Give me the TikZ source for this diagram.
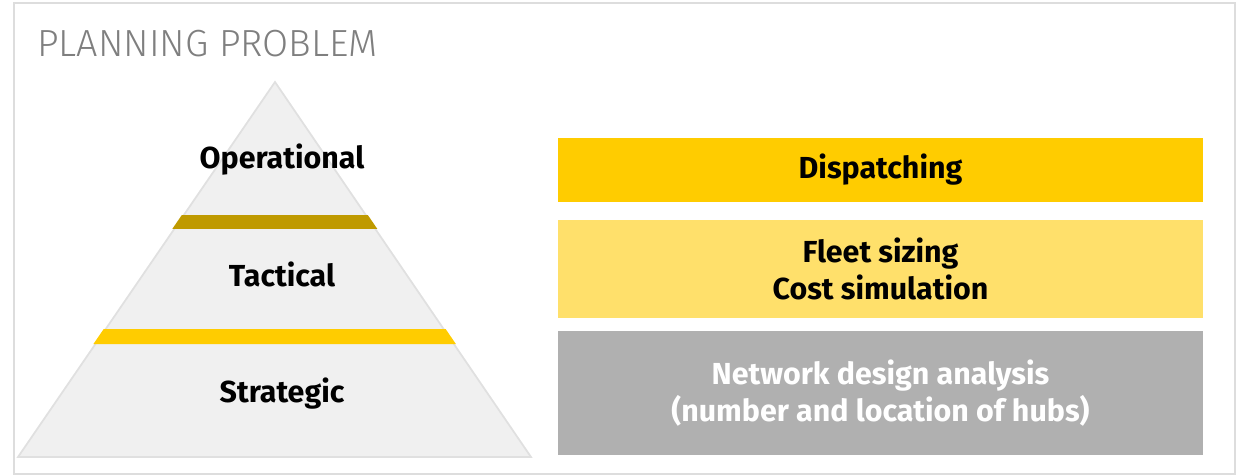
\documentclass[tikz,border=0pt]{standalone}
\usepackage{fontspec}
\setmainfont{Fira Sans}
\newfontfamily\titlefont{Fira Sans Light}
\usetikzlibrary{calc}
\definecolor{ppframe}{HTML}{DDDDDD}
\definecolor{pptitle}{HTML}{7F7F7F}
\definecolor{pplevel}{HTML}{F0F0F0}
\definecolor{ppedge}{HTML}{E0E0E0}
\definecolor{ppdark}{HTML}{BF9A00}
\definecolor{ppyellow}{HTML}{FFCC00}
\definecolor{pplight}{HTML}{FFE06B}
\definecolor{ppgrey}{HTML}{B0B0B0}
\tikzset{
  level/.style={font=\fontsize{17.3}{21.5}\selectfont\bfseries,text=black},
  task/.style={rectangle,minimum width=12.9cm,align=center,inner sep=0pt,
    font=\fontsize{17.3}{21.5}\selectfont\bfseries,text=black},
}
\begin{document}
\begin{tikzpicture}[x=0.02cm,y=-0.02cm]
  \useasboundingbox (0,0) rectangle (1237,475);
  \draw[ppframe,line width=1.1pt] (14,3) rectangle (1235,474);
  \node[anchor=base west,text=pptitle,font=\titlefont\fontsize{21.5}{24}\selectfont,inner sep=0pt] (title) at (37,57) {PLANNING PROBLEM};
  % pyramid
  \coordinate (top) at (275,82);
  \coordinate (bl) at (18,457);
  \coordinate (br) at (531,457);
  \filldraw[fill=pplevel,draw=ppedge,line width=1pt] (top)--(br)--(bl)--cycle;
  \fill[ppdark] ($(top)!0.355!(bl)+(-2,0)$)--($(top)!0.355!(br)+(2,0)$)
    --($(top)!0.392!(br)+(2,0)$)--($(top)!0.392!(bl)+(-2,0)$)--cycle;
  \fill[ppyellow] ($(top)!0.659!(bl)+(-2,0)$)--($(top)!0.659!(br)+(2,0)$)
    --($(top)!0.699!(br)+(2,0)$)--($(top)!0.699!(bl)+(-2,0)$)--cycle;
  \node[level] (op) at (282,160) {Operational};
  \node[level] (tac) at (282,274) {Tactical};
  \node[level] (str) at (282,394) {Strategic};
  % planning tasks
  \node[task,fill=ppyellow,minimum height=1.28cm] (disp) at (880.5,170) {Dispatching};
  \node[task,fill=pplight,minimum height=1.96cm] (fleet) at (880.5,269) {Fleet sizing\\Cost simulation};
  \node[task,fill=ppgrey,text=white,minimum height=2.48cm] (net) at (880.5,393) {Network design analysis\\(number and location of hubs)};
\end{tikzpicture}
\end{document}
